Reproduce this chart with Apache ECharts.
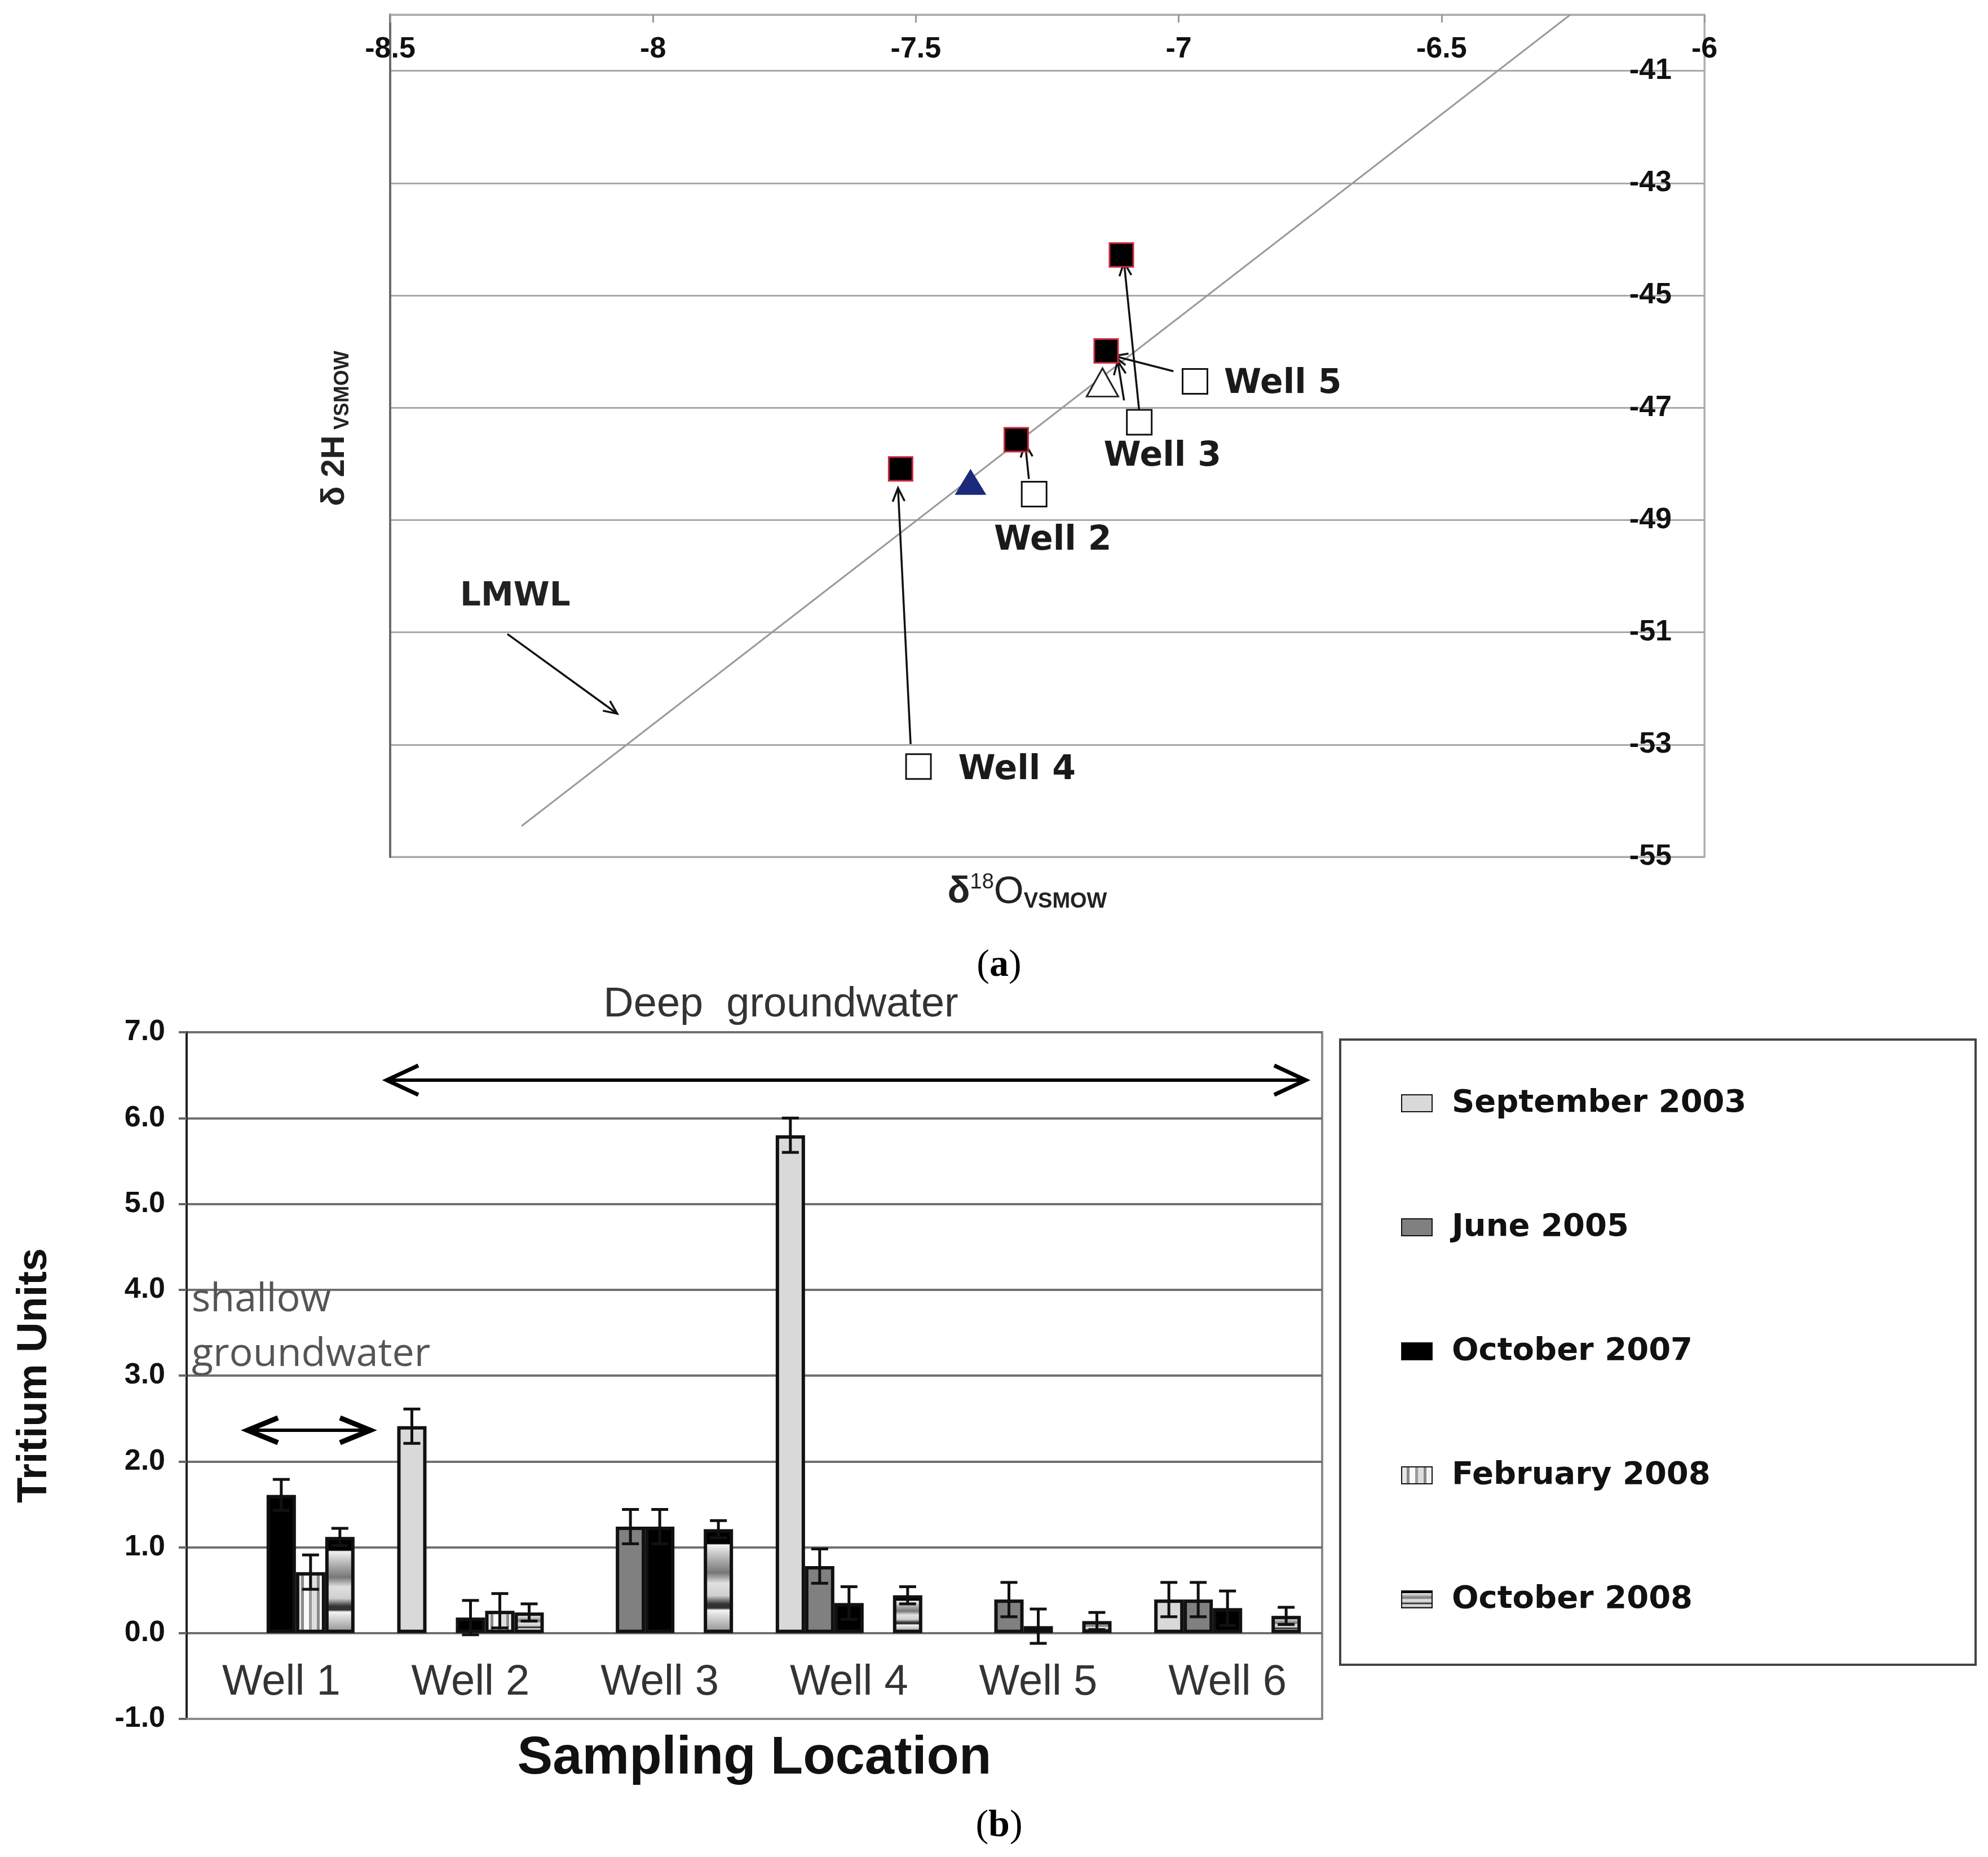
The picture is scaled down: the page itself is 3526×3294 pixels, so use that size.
<!DOCTYPE html>
<html>
<head>
<meta charset="utf-8">
<script src="https://cdn.jsdelivr.net/npm/echarts@6/dist/echarts.min.js"></script>
<style>
  html, body { margin: 0; padding: 0; background: #fff; }
  #chart { width: 3526px; height: 3294px; }
</style>
</head>
<body>
<div id="chart"></div>
<script>
// ---- (a) stable isotopes ----
var lmwlLine = [[-8.25, -54.45], [-6.255, -40.0]];
var wellNames = ['Well 2', 'Well 3', 'Well 4', 'Well 5'];
var wellO18 = [-7.275, -7.075, -7.495, -6.969];
var wellH2 = [-48.54, -47.26, -53.39, -46.53];
var laterO18 = [-7.529, -7.309, -7.138, -7.109];
var laterH2 = [-48.09, -47.57, -45.99, -44.28];
var blueTriangle = [[-7.396, -48.32]];
var openTriangle = [[-7.145, -46.55]];
// arrows: [x1, y1, x2, y2] (tail -> head)
var arrows = [
  [-7.510, -52.99, -7.534, -48.43],
  [-7.285, -48.27, -7.292, -47.64],
  [-7.075, -47.07, -7.104, -44.41],
  [-7.010, -46.35, -7.123, -46.08],
  [-7.104, -46.87, -7.116, -46.17],
  [-8.277, -51.03, -8.068, -52.45]
];

// ---- (b) tritium ----
var wells = ['Well 1', 'Well 2', 'Well 3', 'Well 4', 'Well 5', 'Well 6'];
var campaigns = ['September 2003', 'June 2005', 'October 2007', 'February 2008', 'October 2008'];
var sep2003 = [null, 2.41, null, 5.80, null, 0.39];
var jun2005 = [null, null, 1.24, 0.78, 0.39, 0.39];
var oct2007 = [1.61, 0.18, 1.24, 0.35, 0.08, 0.29];
var feb2008 = [0.71, 0.26, null, null, null, null];
var oct2008 = [1.12, 0.24, 1.21, 0.44, 0.14, 0.20];
var sep2003Err = [null, 0.2, null, 0.2, null, 0.2];
var jun2005Err = [null, null, 0.2, 0.2, 0.2, 0.2];
var oct2007Err = [0.18, 0.2, 0.2, 0.19, 0.2, 0.2];
var feb2008Err = [0.2, 0.2, null, null, null, null];
var oct2008Err = [0.1, 0.1, 0.1, 0.1, 0.1, 0.1];

var SANS = "'Liberation Sans', Arial, sans-serif";
var WIDE = "'DejaVu Sans', sans-serif";
var BAR_W = 52;

var barValues = [sep2003, jun2005, oct2007, feb2008, oct2008];
var barErrors = [sep2003Err, jun2005Err, oct2007Err, feb2008Err, oct2008Err];

var vStripes = new echarts.graphic.LinearGradient(0, 0, 1, 0, [
  {offset: 0, color: '#e6e6e6'}, {offset: 0.18, color: '#e6e6e6'},
  {offset: 0.18, color: '#8a8a8a'}, {offset: 0.27, color: '#8a8a8a'},
  {offset: 0.27, color: '#fafafa'}, {offset: 0.45, color: '#fafafa'},
  {offset: 0.45, color: '#9a9a9a'}, {offset: 0.54, color: '#9a9a9a'},
  {offset: 0.54, color: '#dedede'}, {offset: 0.72, color: '#dedede'},
  {offset: 0.72, color: '#888'}, {offset: 0.81, color: '#888'},
  {offset: 0.81, color: '#f4f4f4'}, {offset: 1, color: '#f4f4f4'}
]);
var hBands = new echarts.graphic.LinearGradient(0, 0, 0, 1, [
  {offset: 0, color: '#000'}, {offset: 0.14, color: '#000'},
  {offset: 0.15, color: '#f2f2f2'}, {offset: 0.3, color: '#aaa'},
  {offset: 0.42, color: '#777'}, {offset: 0.52, color: '#e0e0e0'},
  {offset: 0.64, color: '#cfcfcf'}, {offset: 0.72, color: '#333'},
  {offset: 0.76, color: '#333'}, {offset: 0.78, color: '#f4f4f4'},
  {offset: 1, color: '#8c8c8c'}
]);
var barFills = ['#d9d9d9', '#808080', '#000000', vStripes, hBands];

var barSeries = campaigns.map(function (name, s) {
  return {
    name: name,
    type: 'bar',
    xAxisIndex: 1,
    yAxisIndex: 2,
    barWidth: BAR_W,
    barGap: '0%',
    data: barValues[s].map(function (v) { return v === null ? '-' : v; }),
    itemStyle: {color: barFills[s], borderColor: '#111', borderWidth: 6},
    z: 3
  };
});

var errData = [];
barValues.forEach(function (vals, s) {
  vals.forEach(function (v, i) {
    if (v !== null && barErrors[s][i] !== null) errData.push([i, v, barErrors[s][i], s]);
  });
});

function renderErr(params, api) {
  var cat = api.value(0), val = api.value(1), err = api.value(2), slot = api.value(3);
  var hi = api.coord([cat, val + err]);
  var lo = api.coord([cat, val - err]);
  var x = hi[0] + (slot - 2) * BAR_W;
  var cap = 15;
  var st = {stroke: '#111', lineWidth: 5};
  return {
    type: 'group',
    children: [
      {type: 'line', shape: {x1: x, y1: hi[1], x2: x, y2: lo[1]}, style: st},
      {type: 'line', shape: {x1: x - cap, y1: hi[1], x2: x + cap, y2: hi[1]}, style: st},
      {type: 'line', shape: {x1: x - cap, y1: lo[1], x2: x + cap, y2: lo[1]}, style: st}
    ]
  };
}

function renderArrow(params, api) {
  var p1 = api.coord([api.value(0), api.value(1)]);
  var p2 = api.coord([api.value(2), api.value(3)]);
  var ang = Math.atan2(p2[1] - p1[1], p2[0] - p1[0]);
  var len = 26, spread = 0.42;
  var a1 = [p2[0] - len * Math.cos(ang - spread), p2[1] - len * Math.sin(ang - spread)];
  var a2 = [p2[0] - len * Math.cos(ang + spread), p2[1] - len * Math.sin(ang + spread)];
  var st = {stroke: '#111', lineWidth: 3.5, fill: null};
  return {
    type: 'group',
    children: [
      {type: 'line', shape: {x1: p1[0], y1: p1[1], x2: p2[0], y2: p2[1]}, style: st},
      {type: 'polyline', shape: {points: [a1, p2, a2]}, style: st}
    ]
  };
}

// label placement for the well markers in (a)
var wellLabelPlace = {
  'Well 2': {position: 'inside', offset: [33, 83]},
  'Well 3': {position: 'inside', offset: [41, 61]},
  'Well 4': {position: 'right', distance: 47, offset: [0, 7]},
  'Well 5': {position: 'right', distance: 28, offset: [0, 5]}
};

var wellPoints = wellNames.map(function (n, i) {
  var p = wellLabelPlace[n];
  return {
    name: n,
    value: [wellO18[i], wellH2[i]],
    label: {show: true, formatter: n, position: p.position, distance: p.distance || 0, offset: p.offset}
  };
});
var laterPoints = laterO18.map(function (x, i) { return [x, laterH2[i]]; });

// double-headed arrow helper for (b) annotations
function doubleArrow(x1, x2, y, head, half, w, hw) {
  return [
    {type: 'line', shape: {x1: x1 + 4, y1: y, x2: x2 - 4, y2: y}, style: {stroke: '#000', lineWidth: w}},
    {type: 'polyline', shape: {points: [[x1 + head, y - half], [x1, y], [x1 + head, y + half]]},
      style: {stroke: '#000', lineWidth: hw, fill: null}},
    {type: 'polyline', shape: {points: [[x2 - head, y - half], [x2, y], [x2 - head, y + half]]},
      style: {stroke: '#000', lineWidth: hw, fill: null}}
  ];
}

var option = {
  animation: false,
  backgroundColor: '#fff',
  grid: [
    {left: 692, top: 26, width: 2331, height: 1494, show: true, borderColor: '#a8a8a8', borderWidth: 3,
      outerBoundsMode: 'none', containLabel: false},
    {left: 331, top: 1831, width: 2014, height: 1218, show: true, borderColor: '#8a8a8a', borderWidth: 4,
      outerBoundsMode: 'none', containLabel: false}
  ],
  xAxis: [
    {
      type: 'value', gridIndex: 0, position: 'top', min: -8.5, max: -6, interval: 0.5,
      axisLine: {show: true, onZero: false, lineStyle: {color: '#a8a8a8', width: 3}},
      axisTick: {show: true, inside: true, length: 14, lineStyle: {color: '#999', width: 3}},
      axisLabel: {inside: true, margin: 36, fontSize: 52, fontFamily: SANS, fontWeight: 'bold', color: '#111'},
      splitLine: {show: false}
    },
    {
      type: 'category', gridIndex: 1, data: wells, position: 'bottom',
      axisLine: {show: true, onZero: false, lineStyle: {color: '#8a8a8a', width: 4}},
      axisTick: {show: false},
      axisLabel: {inside: true, margin: 26, fontSize: 76, fontFamily: SANS, color: '#333'},
      name: 'Sampling Location', nameLocation: 'middle', nameGap: 24,
      nameTextStyle: {fontSize: 94, fontWeight: 'bold', fontFamily: SANS, color: '#111', verticalAlign: 'top'}
    }
  ],
  yAxis: [
    {
      type: 'value', gridIndex: 0, position: 'right', min: -55, max: -40, interval: 2,
      axisLine: {show: true, onZero: false, lineStyle: {color: '#b0b0b0', width: 3}},
      axisTick: {show: false},
      axisLabel: {
        inside: true, margin: 58, fontSize: 52, fontFamily: SANS, fontWeight: 'bold', color: '#111',
        formatter: function (v) { return v === -40 ? '' : String(v); }
      },
      splitLine: {show: true, lineStyle: {color: '#a8a8a8', width: 3}}
    },
    {
      type: 'value', gridIndex: 0, position: 'left', min: -55, max: -40,
      axisLine: {show: true, onZero: false, lineStyle: {color: '#6a6a6a', width: 4}},
      axisTick: {show: false}, axisLabel: {show: false}, splitLine: {show: false}
    },
    {
      type: 'value', gridIndex: 1, min: -1, max: 7, interval: 1,
      axisLine: {show: true, onZero: false, lineStyle: {color: '#222', width: 4}},
      axisTick: {show: true, length: 14, lineStyle: {color: '#666', width: 4}},
      axisLabel: {
        margin: 38, fontSize: 52, fontFamily: SANS, fontWeight: 'bold', color: '#111',
        formatter: function (v) { return v.toFixed(1); }
      },
      splitLine: {show: true, lineStyle: {color: '#707070', width: 4}},
      name: 'Tritium Units', nameLocation: 'middle', nameGap: 232,
      nameTextStyle: {fontSize: 74, fontWeight: 'bold', fontFamily: SANS, color: '#111'}
    }
  ],
  legend: {
    data: campaigns, orient: 'vertical', left: 2485, top: 1927,
    itemWidth: 54, itemHeight: 30, itemGap: 160, padding: 0, icon: 'rect', selectedMode: false,
    textStyle: {fontFamily: WIDE, fontWeight: 'bold', fontSize: 56, color: '#111', lineHeight: 60, padding: [0, 0, 0, 30]}
  },
  series: [
    {
      name: 'LMWL', type: 'line', xAxisIndex: 0, yAxisIndex: 0, data: lmwlLine,
      symbol: 'none', lineStyle: {color: '#9a9a9a', width: 3}, z: 1
    },
    {
      type: 'custom', xAxisIndex: 0, yAxisIndex: 0, data: arrows,
      encode: {x: [0, 2], y: [1, 3]}, renderItem: renderArrow, silent: true, z: 2
    },
    {
      type: 'scatter', xAxisIndex: 0, yAxisIndex: 0, data: wellPoints,
      symbol: 'rect', symbolSize: 44,
      itemStyle: {color: '#fff', borderColor: '#111', borderWidth: 3, opacity: 1},
      label: {fontFamily: WIDE, fontWeight: 'bold', fontSize: 60, color: '#1a1a1a'},
      z: 4
    },
    {
      type: 'scatter', xAxisIndex: 0, yAxisIndex: 0, data: laterPoints,
      symbol: 'rect', symbolSize: 42,
      itemStyle: {color: '#000', borderColor: '#c8283e', borderWidth: 3, opacity: 1}, z: 4
    },
    {
      type: 'scatter', xAxisIndex: 0, yAxisIndex: 0, data: blueTriangle,
      symbol: 'triangle', symbolSize: [56, 46],
      itemStyle: {color: '#1c2a7a', opacity: 1}, z: 4
    },
    {
      type: 'scatter', xAxisIndex: 0, yAxisIndex: 0, data: openTriangle,
      symbol: 'triangle', symbolSize: [56, 50],
      itemStyle: {color: '#fff', borderColor: '#222', borderWidth: 3, opacity: 1}, z: 3
    }
  ].concat(barSeries).concat([
    {
      type: 'custom', xAxisIndex: 1, yAxisIndex: 2, data: errData,
      encode: {x: 0, y: 1}, renderItem: renderErr, silent: true, z: 10
    }
  ]),
  graphic: [
    // axis titles of (a)
    {
      type: 'text', x: 1822, y: 1583, z: 10,
      style: {
        text: '{d|δ}{s|18}{o|O}{b|VSMOW}', align: 'center', verticalAlign: 'middle',
        rich: {
          d: {fontSize: 66, fontFamily: SANS, fontWeight: 'bold', fill: '#222', lineHeight: 72},
          s: {fontSize: 38, fontFamily: SANS, fill: '#222', verticalAlign: 'top', lineHeight: 72},
          o: {fontSize: 68, fontFamily: SANS, fill: '#222', lineHeight: 72},
          b: {fontSize: 38, fontFamily: SANS, fontWeight: 'bold', fill: '#222', verticalAlign: 'bottom', lineHeight: 72}
        }
      }
    },
    {
      type: 'text', x: 594, y: 760, rotation: Math.PI / 2, z: 10,
      style: {
        text: '{d|δ 2H}{b| VSMOW}', align: 'center', verticalAlign: 'middle',
        rich: {
          d: {fontSize: 58, fontFamily: SANS, fontWeight: 'bold', fill: '#222', lineHeight: 64},
          b: {fontSize: 36, fontFamily: SANS, fontWeight: 'bold', fill: '#222', verticalAlign: 'bottom', lineHeight: 64}
        }
      }
    },
    {
      type: 'text', x: 816, y: 1059, z: 10,
      style: {text: 'LMWL', align: 'left', verticalAlign: 'middle', fontSize: 58, fontFamily: WIDE, fontWeight: 'bold', fill: '#222'}
    },
    // panel labels
    {
      type: 'text', x: 1772, y: 1713, z: 10,
      style: {
        text: '{p|(}{a|a}{p|)}', align: 'center', verticalAlign: 'middle',
        rich: {
          p: {fontSize: 68, fontFamily: "'Liberation Serif', serif", fill: '#000'},
          a: {fontSize: 68, fontFamily: "'Liberation Serif', serif", fontWeight: 'bold', fill: '#000'}
        }
      }
    },
    {
      type: 'text', x: 1772, y: 3239, z: 10,
      style: {
        text: '{p|(}{a|b}{p|)}', align: 'center', verticalAlign: 'middle',
        rich: {
          p: {fontSize: 68, fontFamily: "'Liberation Serif', serif", fill: '#000'},
          a: {fontSize: 68, fontFamily: "'Liberation Serif', serif", fontWeight: 'bold', fill: '#000'}
        }
      }
    },
    // annotations of (b)
    {
      type: 'text', x: 1385, y: 1783, z: 10,
      style: {text: 'Deep  groundwater', align: 'center', verticalAlign: 'middle', fontSize: 74, fontFamily: SANS, fill: '#333'}
    },
    {
      type: 'text', x: 340, y: 2306, z: 10,
      style: {text: 'shallow', align: 'left', verticalAlign: 'middle', fontSize: 70, fontFamily: "'Open Sans', sans-serif", fill: '#555'}
    },
    {
      type: 'text', x: 340, y: 2403, z: 10,
      style: {text: 'groundwater', align: 'left', verticalAlign: 'middle', fontSize: 70, fontFamily: "'Open Sans', sans-serif", fill: '#555'}
    },
    {type: 'group', z: 10, children: doubleArrow(686, 2316, 1916, 56, 26, 6, 7)},
    {type: 'group', z: 10, children: doubleArrow(439, 657, 2537, 54, 22, 6, 9)},
    // legend frame
    {
      type: 'rect', z: 0, shape: {x: 2377, y: 1844, width: 1127, height: 1109},
      style: {fill: '#fff', stroke: '#444', lineWidth: 4}
    }
  ]
};

var chart = echarts.init(document.getElementById('chart'));
chart.setOption(option);
</script>
</body>
</html>
